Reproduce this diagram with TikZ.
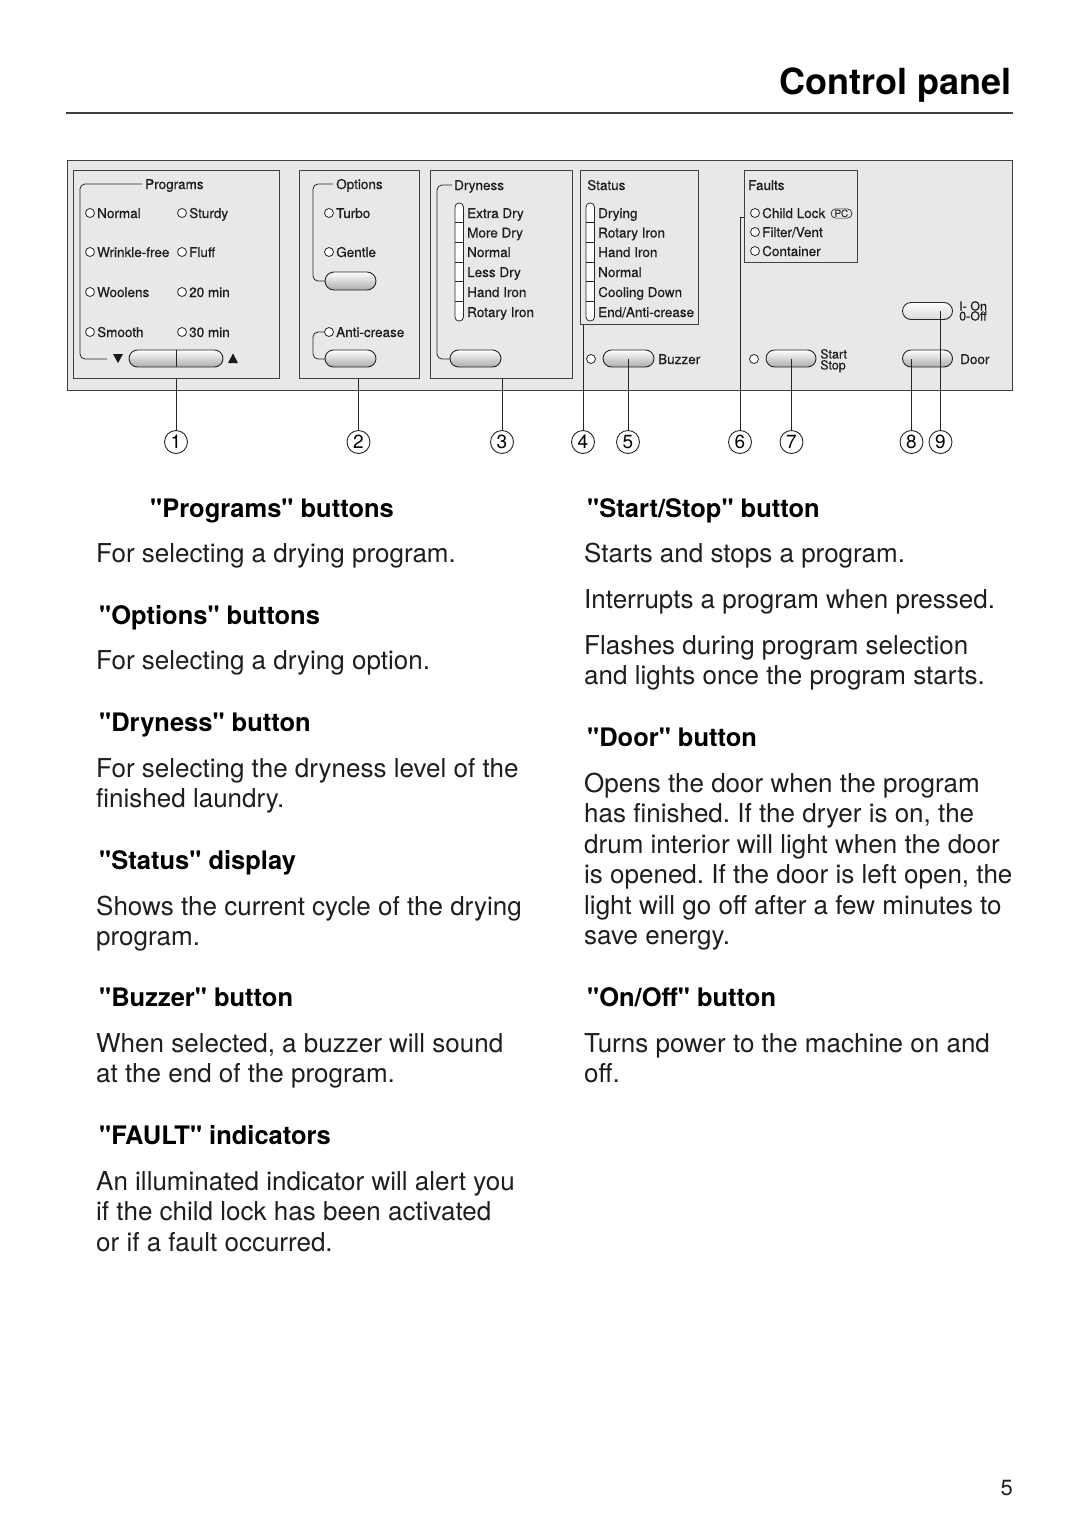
\documentclass[tikz,border=0pt]{standalone}
\usepackage{fontspec}
\setmainfont{TeX Gyre Heros}[Ligatures=TeXOff]
\newfontfamily\lblfont{TeX Gyre Heros}[Ligatures=TeXOff,FakeBold=0.5]
\usetikzlibrary{shapes.misc}
\frenchspacing
\definecolor{panelgray}{HTML}{E8E8E8}
\definecolor{txt}{HTML}{1E1E1E}
\tikzset{
  panelbox/.style={draw=black!75, line width=0.9pt, fill=panelgray, inner sep=0pt},
  lbl/.style={font=\lblfont\fontsize{13.5}{14}\selectfont, anchor=base west, inner sep=0pt, text=txt},
  smlbl/.style={font=\lblfont\fontsize{12.5}{13}\selectfont, anchor=base west, inner sep=0pt, text=txt},
  led/.style={circle, draw=black!85, line width=0.8pt, fill=white, inner sep=0pt, minimum size=9pt},
  btn/.style={rounded rectangle, draw=black!85, line width=0.9pt, minimum height=17pt, minimum width=51pt, inner sep=0pt, top color=white, bottom color=gray!65},
  brk/.style={line width=0.8pt, draw=black!85, rounded corners=5pt},
  bar/.style={line width=0.8pt, draw=black!85, fill=white, rounded corners=4pt},
  head/.style={font=\fontsize{25.5}{30}\bfseries\selectfont, anchor=base west, inner sep=0pt, text=black},
  body/.style={font=\fontsize{26}{30.5}\selectfont, anchor=base west, inner sep=0pt, text=txt},
  num/.style={circle, draw=black!85, line width=0.9pt, minimum size=23pt, inner sep=0pt, font=\fontsize{19}{19}\selectfont},
  leader/.style={line width=0.9pt, draw=black!85},
}
\begin{document}
\begin{tikzpicture}[x=1pt,y=-1pt]
\useasboundingbox (0,0) rectangle (1080,1529);
\fill[white] (0,0) rectangle (1080,1529);

% title
\node[anchor=base east, inner sep=0pt, font=\fontsize{36}{36}\bfseries\selectfont] (title) at (1012,94) {Control panel};
\draw[line width=2pt, black!75] (66,113) -- (1013,113);

% panel
\node[panelbox, anchor=north west, minimum width=945pt, minimum height=230pt] (panel) at (67,160) {};

% Programs box
\node[panelbox, anchor=north west, minimum width=206pt, minimum height=208pt] (progbox) at (73,170) {};
\draw[brk] (142,184) -- (80,184) -- (80,359) -- (107,359);
\node[lbl] (progt) at (145,189) {Programs};
\foreach \nm/\x/\y/\t in {pa/90/213/Normal, pb/182/213/Sturdy, pc/90/252/Wrinkle-free, pd/182/252/Fluff, pe/90/292/Woolens, pf/182/292/20 min, pg/90/332/Smooth, ph/182/332/30 min}{
  \node[led] (\nm) at (\x,\y) {};
  \node[lbl] (\nm t) at (\x+7,\y+5) {\t};
}
\node[btn, minimum width=94pt] (progbtn) at (176,358.5) {};
\draw[line width=0.8pt, black!85] (progbtn.north) -- (progbtn.south);
\fill[black!90] (113,354) -- (123,354) -- (118,363) -- cycle;
\fill[black!90] (228,363) -- (238,363) -- (233,353.5) -- cycle;

% Options box
\node[panelbox, anchor=north west, minimum width=120pt, minimum height=208pt] (optbox) at (299,170) {};
\draw[brk] (333,184) -- (313,184) -- (313,281) -- (325,281);
\node[lbl] (optt) at (336,189) {Options};
\node[led] (oa) at (329,213) {};
\node[lbl] (oat) at (336,218) {Turbo};
\node[led] (ob) at (329,252) {};
\node[lbl] (obt) at (336,257) {Gentle};
\node[btn, minimum height=18pt] (optbtn) at (350.5,281) {};
\draw[brk] (325,332) -- (313,332) -- (313,359) -- (325,359);
\node[led] (oc) at (329,332) {};
\node[lbl] (oct) at (336,337) {Anti-crease};
\node[btn] (acbtn) at (350.5,358.5) {};

% Dryness box
\node[panelbox, anchor=north west, minimum width=142pt, minimum height=208pt] (drybox) at (430,170) {};
\draw[brk] (452,185) -- (437,185) -- (437,359) -- (450,359);
\node[lbl] (dryt) at (454,190) {Dryness};
\draw[bar] (455,203) rectangle (463.5,321);
\foreach \k in {1,...,5}{ \draw[line width=0.7pt, black!85] (455,203+19.67*\k) -- (463.5,203+19.67*\k); }
\foreach \nm/\y/\t in {da/213/Extra Dry, db/232.5/More Dry, dc/252/Normal, dd/272/Less Dry, de/292/Hand Iron, df/312/Rotary Iron}{
  \node[lbl] (\nm) at (467,\y+5) {\t};
}
\node[btn] (drybtn) at (475.5,358.5) {};

% Status box
\node[panelbox, anchor=north west, minimum width=118pt, minimum height=154pt] (statbox) at (580,170) {};
\node[lbl] (statt) at (587,190) {Status};
\draw[bar] (586,203) rectangle (594.5,321);
\foreach \k in {1,...,5}{ \draw[line width=0.7pt, black!85] (586,203+19.67*\k) -- (594.5,203+19.67*\k); }
\foreach \nm/\y/\t in {sa/213/Drying, sb/232.5/Rotary Iron, sc/252/Hand Iron, sd/272/Normal, se/292/Cooling Down, sf/312/{End/Anti-crease}}{
  \node[lbl] (\nm) at (598,\y+5) {\t};
}

% Buzzer
\node[led] (bled) at (591,359) {};
\node[btn] (buzz) at (628.5,358.5) {};
\node[lbl] (buzzt) at (658,364) {Buzzer};

% Faults box
\node[panelbox, anchor=north west, minimum width=113pt, minimum height=92pt] (faultbox) at (744,170) {};
\node[lbl] (faultt) at (748,190) {Faults};
\node[led] (fa) at (755,213) {};
\node[lbl] (fat) at (762,218) {Child Lock};
\node[rounded rectangle, draw=black!85, line width=0.7pt, inner xsep=1.5pt, inner ysep=0.8pt, font=\fontsize{10}{10}\selectfont] (pc) at (841.5,213.5) {PC};
\node[led] (fb) at (755,232) {};
\node[lbl] (fbt) at (762,237) {Filter/Vent};
\node[led] (fc) at (755,251) {};
\node[lbl] (fct) at (762,256) {Container};

% Start/Stop
\node[led] (sled) at (754,359) {};
\node[btn, minimum width=50pt] (start) at (791,358.5) {};
\node[smlbl] (startt) at (820,358.5) {Start};
\node[smlbl] (stopt) at (820,369.5) {Stop};

% On/Off and Door
\node[btn, minimum width=50pt, top color=white, bottom color=gray!30] (onoff) at (927.5,311) {};
\node[smlbl] (ont) at (959,310.5) {I- On};
\node[smlbl] (offt) at (959,320.5) {0-Off};
\node[btn, minimum width=50pt] (door) at (927.5,358.5) {};
\node[lbl] (doort) at (960,364) {Door};

% callout numbers
\node[num] (n1) at (176,442) {1};
\node[num] (n2) at (358.5,442) {2};
\node[num] (n3) at (502,442) {3};
\node[num] (n4) at (583,442) {4};
\node[num] (n5) at (628,442) {5};
\node[num] (n6) at (740,442) {6};
\node[num] (n7) at (791.5,442) {7};
\node[num] (n8) at (911.5,442) {8};
\node[num] (n9) at (940.5,442) {9};

% leaders
\draw[leader] (n1 |- progbox.south) -- (n1);
\draw[leader] (n2 |- optbox.south) -- (n2);
\draw[leader] (n3 |- drybox.south) -- (n3);
\draw[leader] (n4 |- statbox.south) -- (n4);
\draw[leader] (n5 |- buzz.center) -- (n5);
\coordinate (f6) at (744,217);
\draw[leader] (f6) -- (f6 -| n6) -- (n6);
\draw[leader] (n7 |- start.center) -- (n7);
\draw[leader] (n8 |- door.center) -- (n8);
\draw[leader] (n9 |- onoff.center) -- (n9);

% left column text
\node[head] (h1) at (150,517) {"Programs" buttons};
\node[body] (b1) at (96,562) {For selecting a drying program.};
\node[head] (h2) at (99,624) {"Options" buttons};
\node[body] (b2) at (96,669) {For selecting a drying option.};
\node[head] (h3) at (99,731) {"Dryness" button};
\node[body] (b3a) at (96,777) {For selecting the dryness level of the};
\node[body] (b3b) at (96,807.5) {finished laundry.};
\node[head] (h4) at (99,869) {"Status" display};
\node[body] (b4a) at (96,915) {Shows the current cycle of the drying};
\node[body] (b4b) at (96,945.5) {program.};
\node[head] (h5) at (99,1006) {"Buzzer" button};
\node[body] (b5a) at (96,1052) {When selected, a buzzer will sound};
\node[body] (b5b) at (96,1082.5) {at the end of the program.};
\node[head] (h6) at (99,1144) {"FAULT" indicators};
\node[body] (b6a) at (96,1190) {An illuminated indicator will alert you};
\node[body] (b6b) at (96,1220.5) {if the child lock has been activated};
\node[body] (b6c) at (96,1251) {or if a fault occurred.};

% right column text
\node[head] (h7) at (587,517) {"Start/Stop" button};
\node[body] (b7) at (584,562) {Starts and stops a program.};
\node[body] (b8) at (584,608) {Interrupts a program when pressed.};
\node[body] (b9a) at (584,654) {Flashes during program selection};
\node[body] (b9b) at (584,684.5) {and lights once the program starts.};
\node[head] (h8) at (587,746) {"Door" button};
\node[body] (b10a) at (584,792) {Opens the door when the program};
\node[body] (b10b) at (584,822.5) {has finished. If the dryer is on, the};
\node[body] (b10c) at (584,853) {drum interior will light when the door};
\node[body] (b10d) at (584,883.5) {is opened. If the door is left open, the};
\node[body] (b10e) at (584,914) {light will go off after a few minutes to};
\node[body] (b10f) at (584,944.5) {save energy.};
\node[head] (h9) at (587,1006) {"On/Off" button};
\node[body] (b11a) at (584,1052) {Turns power to the machine on and};
\node[body] (b11b) at (584,1082.5) {off.};

% page number
\node[anchor=base east, inner sep=0pt, font=\fontsize{22}{22}\selectfont, text=txt] (pg) at (1013,1495) {5};
\end{tikzpicture}
\end{document}
